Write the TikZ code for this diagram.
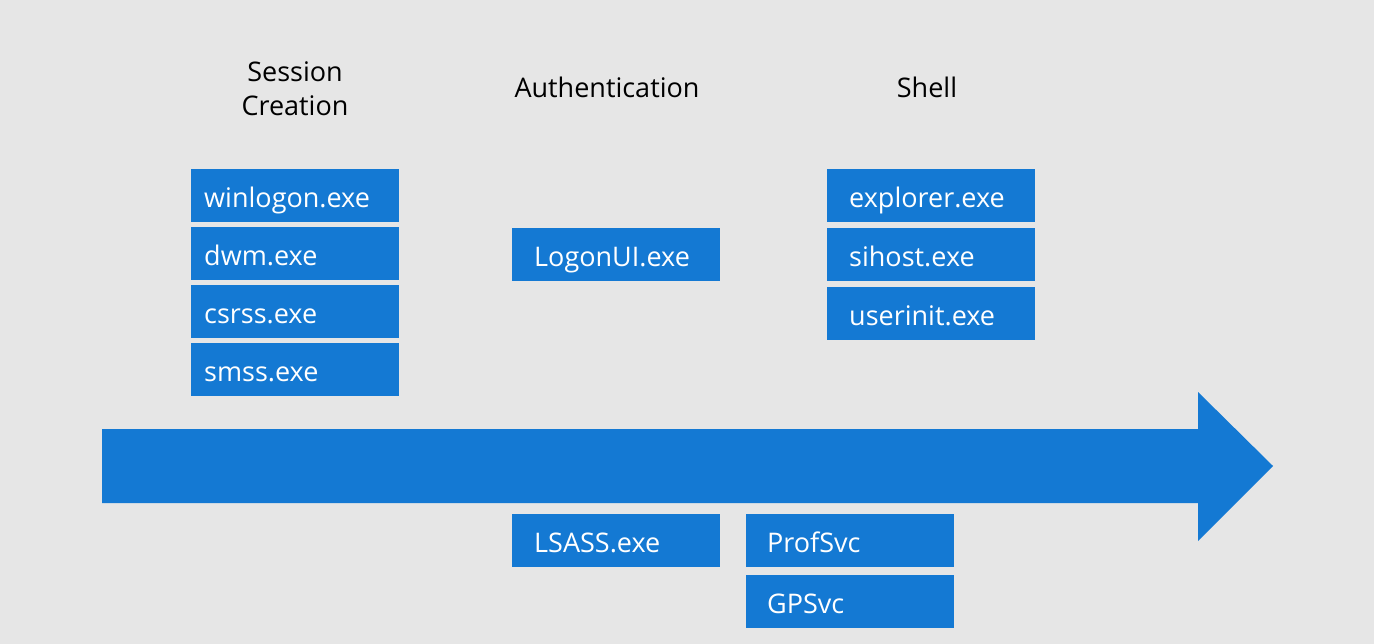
\documentclass[tikz,border=0pt]{standalone}
\usepackage{fontspec}
\setmainfont{Open Sans}
\definecolor{bg}{HTML}{E6E6E6}
\definecolor{msblue}{HTML}{1479D3}
\begin{document}
\begin{tikzpicture}[x=1pt,y=-1pt,
  procbox/.style={fill=msblue, draw=none, minimum width=208pt, minimum height=53pt, inner sep=0pt, anchor=north west},
  proctext/.style={text=white, font=\fontsize{27}{30}\selectfont, anchor=base west, inner sep=0pt},
  title/.style={font=\fontsize{27}{34}\selectfont, align=center, text=black}]
\fill[bg] (0,0) rectangle (1374,644);
\useasboundingbox (0,0) rectangle (1374,644);
% arrow
\fill[msblue] (102,429) -- (1198,429) -- (1198,392) -- (1273,466) -- (1198,541) -- (1198,503) -- (102,503) -- cycle;
% titles
\node[title] (t1) at (295,89) {Session\\Creation};
\node[title] (t2) at (607,87) {Authentication};
\node[title] (t3) at (927,87) {Shell};
% boxes
\foreach \n/\t/\x/\y/\i in {winlogon/winlogon.exe/191/169/13, dwm/dwm.exe/191/227/13, csrss/csrss.exe/191/285/13, smss/smss.exe/191/343/13,
  logonui/LogonUI.exe/512/228/22,
  explorer/explorer.exe/827/169/22, sihost/sihost.exe/827/228/22, userinit/userinit.exe/827/287/22,
  lsass/LSASS.exe/512/514/22, profsvc/ProfSvc/746/514/21, gpsvc/GPSvc/746/575/21}{
  \node[procbox] (\n box) at (\x,\y) {};
  \node[proctext] (\n) at ([xshift=\i pt, yshift=-38.5pt]\n box.north west) {\t};
}
\end{tikzpicture}
\end{document}
